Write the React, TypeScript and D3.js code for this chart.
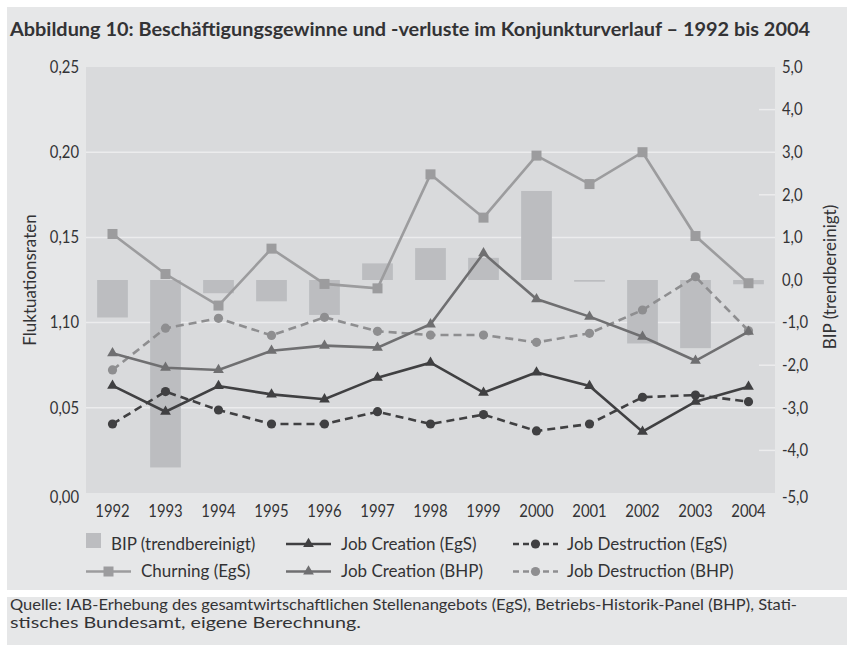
import React from 'react';
import * as d3 from 'd3';

// Jahre (Kategorien)
const years = ['1992', '1993', '1994', '1995', '1996', '1997', '1998', '1999', '2000', '2001', '2002', '2003', '2004'];

// BIP (trendbereinigt), rechte Achse
const bip = [-0.88, -4.4, -0.31, -0.5, -0.82, 0.39, 0.75, 0.52, 2.09, -0.04, -1.49, -1.6, -0.1];

// Fluktuationsraten, linke Achse
const churning = [0.152, 0.1285, 0.110, 0.1434, 0.1227, 0.1201, 0.187, 0.1616, 0.198, 0.1813, 0.2, 0.1508, 0.1231];
const jobCreationEgS = [0.063, 0.0477, 0.0628, 0.0579, 0.055, 0.0677, 0.0765, 0.0589, 0.0708, 0.0628, 0.036, 0.0536, 0.0624];
const jobDestructionEgS = [0.0405, 0.0595, 0.0487, 0.0405, 0.0405, 0.0477, 0.0405, 0.046, 0.0364, 0.0405, 0.0562, 0.0575, 0.0536];
const jobCreationBHP = [0.082, 0.0735, 0.0722, 0.0835, 0.0865, 0.0853, 0.099, 0.1407, 0.1138, 0.1035, 0.0917, 0.0776, 0.0947];
const jobDestructionBHP = [0.0722, 0.0967, 0.1025, 0.0925, 0.1031, 0.0949, 0.0927, 0.0927, 0.0884, 0.0937, 0.1074, 0.1269, 0.0952];

// Achsenbeschriftungen (so wie im Original, inkl. "1,10")
const leftTicks = [0, 0.05, 0.1, 0.15, 0.2, 0.25];
const leftTickLabels = ['0,00', '0,05', '1,10', '0,15', '0,20', '0,25'];
const rightTicks = [-5, -4, -3, -2, -1, 0, 1, 2, 3, 4, 5];
const rightTickLabels = ['-5,0', '-4,0', '-3,0', '-2,0', '-1,0', '0,0', '1,0', '2,0', '3,0', '4,0', '5,0'];

const title = 'Abbildung 10: Beschäftigungsgewinne und -verluste im Konjunkturverlauf – 1992 bis 2004';
const source1 = 'Quelle: IAB-Erhebung des gesamtwirtschaftlichen Stellenangebots (EgS), Betriebs-Historik-Panel (BHP), Stati-';
const source2 = 'stisches Bundesamt, eigene Berechnung.';

const W = 847;
const H = 645;
const FONT = 'Lato, "Open Sans", sans-serif';
const TEXT = '#333335';

const plot = { left: 86, right: 775, top: 67, bottom: 493 };

// Text mit horizontaler Stauchung (Ziffern etwas schmaler)
const T = ({ x, y, anchor = 'start', size = 16.5, sx = 1, weight = 400, rotate = 0, fill = TEXT, children }: any) => (
  <text
    transform={`translate(${x},${y}) rotate(${rotate}) scale(${sx},1)`}
    textAnchor={anchor}
    dy="0.35em"
    fontFamily={FONT}
    fontSize={size}
    fontWeight={weight}
    fill={fill}
  >
    {children}
  </text>
);

const series = [
  { key: 'churning', label: 'Churning (EgS)', data: churning, color: '#9c9c9e', dash: null, marker: 'square' },
  { key: 'jdBHP', label: 'Job Destruction (BHP)', data: jobDestructionBHP, color: '#8e8e90', dash: '8,5', marker: 'circle' },
  { key: 'jcBHP', label: 'Job Creation (BHP)', data: jobCreationBHP, color: '#6f6f71', dash: null, marker: 'triangle' },
  { key: 'jdEgS', label: 'Job Destruction (EgS)', data: jobDestructionEgS, color: '#404042', dash: '8,5', marker: 'circle' },
  { key: 'jcEgS', label: 'Job Creation (EgS)', data: jobCreationEgS, color: '#404042', dash: null, marker: 'triangle' },
];

const triangle = d3.symbol().type(d3.symbolTriangle).size(50)();

const Marker = ({ type, x, y, color }: any) => {
  if (type === 'square') return <rect x={x - 5} y={y - 5} width={10} height={10} fill={color} />;
  if (type === 'circle') return <circle cx={x} cy={y} r={4.6} fill={color} />;
  return <path d={triangle as string} transform={`translate(${x},${y})`} fill={color} />;
};

export default function App() {
  const x = d3.scaleBand().domain(years).range([plot.left, plot.right]).paddingInner(0.42).paddingOuter(0.21);
  const yL = d3.scaleLinear().domain([0, 0.25]).range([plot.bottom, plot.top]);
  const yR = d3.scaleLinear().domain([-5, 5]).range([plot.bottom, plot.top]);
  const cx = (i: number) => (x(years[i]) as number) + x.bandwidth() / 2;

  const line = d3.line<number>().x((_, i) => cx(i)).y(d => yL(d));

  // Legende
  const legendRows = [
    [
      { kind: 'bar', label: 'BIP (trendbereinigt)', lx: 86, tx: 111 },
      { kind: 'line', s: series[4], lx: 286, tx: 341 },
      { kind: 'line', s: series[3], lx: 513, tx: 567 },
    ],
    [
      { kind: 'line', s: series[0], lx: 86, tx: 141 },
      { kind: 'line', s: series[2], lx: 286, tx: 341 },
      { kind: 'line', s: series[1], lx: 513, tx: 567 },
    ],
  ];
  const legendY = [544, 571.5];

  return (
    <svg width={W} height={H} style={{ position: 'absolute', left: 0, top: 0 }}>
      <rect x={0} y={0} width={W} height={H} fill="#ffffff" />
      <rect x={7} y={7} width={W - 7} height={583} fill="#e6e7e8" />
      <rect x={7} y={597} width={W - 7} height={H - 597} fill="#e6e7e8" />

      {/* Titel */}
      <text x={10} y={36} fontFamily={FONT} fontSize={18.5} fontWeight={700} fill={TEXT}
        textLength={800} lengthAdjust="spacingAndGlyphs">{title}</text>

      {/* Plotfläche */}
      <rect x={plot.left} y={plot.top} width={plot.right - plot.left} height={plot.bottom - plot.top} fill="#d9dadc" />

      {/* Gitterlinien */}
      {leftTicks.filter(t => t > 0 && t < 0.25).map(t => (
        <line key={t} x1={plot.left} x2={plot.right} y1={yL(t)} y2={yL(t)} stroke="#ececed" strokeWidth={1.5} />
      ))}
      {rightTicks.filter(t => t % 2 === 0 && t !== 0 && Math.abs(t) < 5).map(t => (
        <line key={t} x1={plot.right - 16} x2={plot.right} y1={yR(t)} y2={yR(t)} stroke="#ececed" strokeWidth={1.5} />
      ))}

      {/* BIP Balken */}
      {bip.map((v, i) => (
        <rect key={years[i]} x={x(years[i])} width={x.bandwidth()}
          y={Math.min(yR(v), yR(0))} height={Math.abs(yR(v) - yR(0))} fill="#bcbdc0" />
      ))}

      {/* Linien */}
      {series.map(s => (
        <g key={s.key}>
          <path d={line(s.data) as string} fill="none" stroke={s.color} strokeWidth={2.6}
            strokeDasharray={s.dash || undefined} />
          {s.data.map((v, i) => <Marker key={i} type={s.marker} x={cx(i)} y={yL(v)} color={s.color} />)}
        </g>
      ))}

      {/* linke Achse */}
      {leftTicks.map((t, i) => (
        <T key={t} x={79} y={yL(t) + (t === 0 ? 4.5 : 0)} anchor="end" sx={0.9}>{leftTickLabels[i]}</T>
      ))}
      <T x={30} y={280} anchor="middle" rotate={-90} size={17}>Fluktuationsraten</T>

      {/* rechte Achse */}
      {rightTicks.map((t, i) => (
        <T key={t} x={782} y={yR(t) + (t === -5 ? 4 : 0)} sx={0.9}>{rightTickLabels[i]}</T>
      ))}
      <T x={830} y={277} anchor="middle" rotate={-90} size={17}>BIP (trendbereinigt)</T>

      {/* x-Achse */}
      {years.map((yv, i) => (
        <T key={yv} x={cx(i)} y={511.5} anchor="middle" sx={0.9}>{yv}</T>
      ))}

      {/* Legende */}
      {legendRows.map((row, r) => row.map((item: any, j) => {
        const ly = legendY[r];
        if (item.kind === 'bar') {
          return (
            <g key={`${r}-${j}`}>
              <rect x={item.lx} y={ly - 11} width={15} height={15} fill="#bcbdc0" />
              <T x={item.tx} y={ly} size={17}>{item.label}</T>
            </g>
          );
        }
        const s = item.s;
        return (
          <g key={`${r}-${j}`}>
            <line x1={item.lx} x2={item.lx + 45} y1={ly} y2={ly} stroke={s.color} strokeWidth={2.6}
              strokeDasharray={s.dash ? '6,4' : undefined} />
            <Marker type={s.marker} x={item.lx + 22.5} y={ly} color={s.color} />
            <T x={item.tx} y={ly} size={17}>{s.label}</T>
          </g>
        );
      }))}

      {/* Quelle */}
      <text x={10} y={610} fontFamily={FONT} fontSize={16} fill={TEXT}
        textLength={787} lengthAdjust="spacingAndGlyphs">{source1}</text>
      <text x={10} y={627.5} fontFamily={FONT} fontSize={16} fill={TEXT}
        textLength={351} lengthAdjust="spacingAndGlyphs">{source2}</text>
    </svg>
  );
}
